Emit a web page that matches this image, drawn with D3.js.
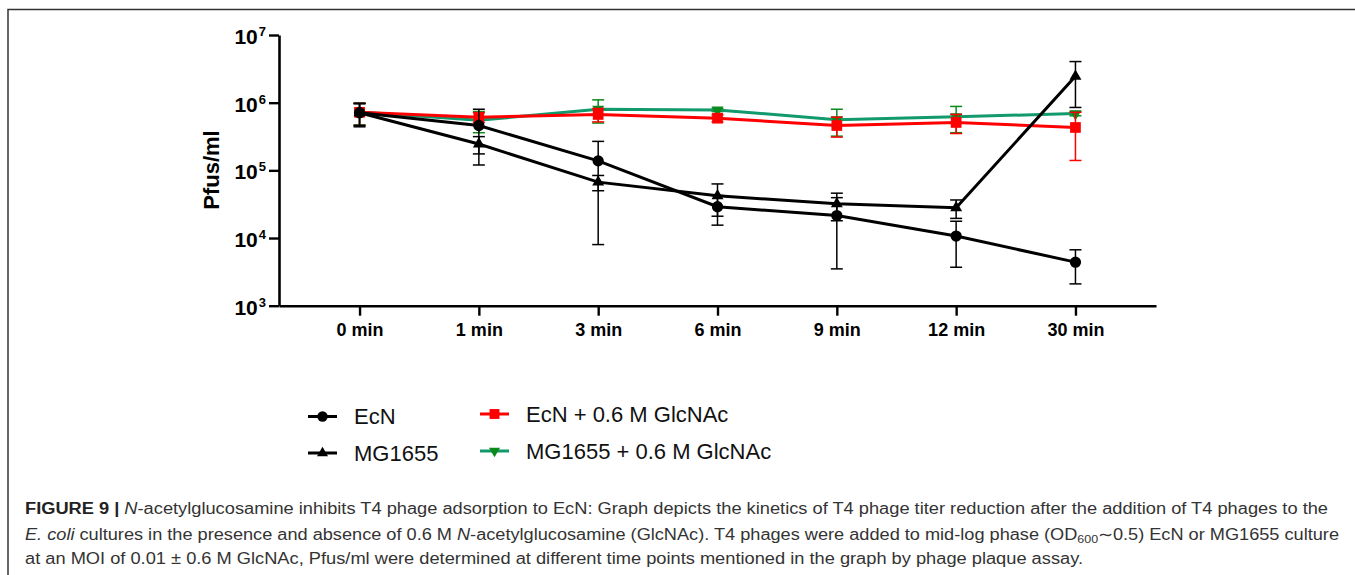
<!DOCTYPE html>
<html>
<head>
<meta charset="utf-8">
<script src="https://cdn.jsdelivr.net/npm/d3@7"></script>
<style>
  body { margin: 0; background: #fff; }
  text { font-family: "Liberation Sans", Arial, sans-serif; }
</style>
</head>
<body>
<div class="canvas"></div>
<script>
// time points on the x axis
const timeLabels = ["0 min", "1 min", "3 min", "6 min", "9 min", "12 min", "30 min"];
const yTicks = [1e3, 1e4, 1e5, 1e6, 1e7];

// pfu/ml means and SDs
const ecnMean = [7.1e5, 4.6e5, 1.38e5, 2.9e4, 2.15e4, 1.07e4, 4.4e3];
const ecnSd = [2.7e5, 3.4e5, 1.3e5, 1.35e4, 1.8e4, 7e3, 2.3e3];
const mgMean = [7.1e5, 2.45e5, 6.7e4, 4.2e4, 3.2e4, 2.8e4, 2.45e6];
const mgSd = [2.5e5, 7e4, 1.7e4, 2.1e4, 1.4e4, 8.5e3, 1.6e6];
const ecnGlcMean = [7.2e5, 6.1e5, 6.7e5, 5.9e5, 4.6e5, 5.1e5, 4.3e5];
const ecnGlcSd = [2.6e5, 1.0e5, 1.5e5, 7e4, 1.5e5, 1.6e5, 2.9e5];
const mgGlcMean = [7.3e5, 5.5e5, 8.0e5, 7.8e5, 5.6e5, 6.2e5, 6.9e5];
const mgGlcSd = [2.6e5, 1.9e5, 3.0e5, 4e4, 2.4e5, 2.6e5, 5e4];

const seriesNames = ["EcN", "MG1655", "EcN + 0.6 M GlcNAc", "MG1655 + 0.6 M GlcNAc"];

// drawing order: green, red, then the black ones on top
const series = [
  { name: seriesNames[3], mean: mgGlcMean, sd: mgGlcSd, line: "#12996c", mark: "#0a8a1c", shape: "down" },
  { name: seriesNames[2], mean: ecnGlcMean, sd: ecnGlcSd, line: "#ff0000", mark: "#ff0000", shape: "square" },
  { name: seriesNames[1], mean: mgMean, sd: mgSd, line: "#000", mark: "#000", shape: "up" },
  { name: seriesNames[0], mean: ecnMean, sd: ecnSd, line: "#000", mark: "#000", shape: "circle" }
];

const w = 1355;
const h = 575;

const svg = d3.select(".canvas").append("svg").attr("width", w).attr("height", h);
svg.append("rect").attr("width", w).attr("height", h).attr("fill", "#fff");

// figure frame (top and left edges are visible)
svg.append("path")
  .attr("d", `M8,${h} L8,9.5 L${w},9.5`)
  .attr("fill", "none")
  .attr("stroke", "#333")
  .attr("stroke-width", 1.5);

// scales
const x = d3.scalePoint().domain(timeLabels).range([279, 1156]).padding(0.675);
const y = d3.scaleLog().domain([1e3, 1e7]).range([305.7, 35]);

// marker shapes
const symbolFor = (shape, scale = 1) => {
  if (shape === "circle") return d3.symbol(d3.symbolCircle, 100 * scale)();
  if (shape === "square") return d3.symbol(d3.symbolSquare, 115 * scale)();
  return d3.symbol(d3.symbolTriangle, 62 * scale)();
};

// axes
const xAxis = d3.axisBottom(x).tickSize(10).tickSizeOuter(0).tickPadding(8);
const gx = svg.append("g").attr("transform", "translate(0,305.7)").call(xAxis);
gx.select(".domain").attr("stroke-width", 2.6).attr("stroke", "#000");
gx.selectAll(".tick line").attr("stroke-width", 2.4).attr("stroke", "#000");
gx.selectAll(".tick text")
  .attr("font-size", 18)
  .attr("font-weight", "bold")
  .attr("fill", "#000")
  .style("font-family", "'Liberation Sans', Arial, sans-serif");

const yAxis = d3.axisLeft(y).tickValues(yTicks).tickSize(10).tickSizeOuter(0).tickFormat("");
const gy = svg.append("g").attr("transform", "translate(279,0)").call(yAxis);
gy.select(".domain").attr("stroke-width", 2.6).attr("stroke", "#000");
gy.selectAll(".tick line").attr("stroke-width", 2.4).attr("stroke", "#000");

// 10^n labels
const yLab = gy.selectAll(".tick")
  .append("text")
  .attr("x", -13)
  .attr("y", 8.5)
  .attr("text-anchor", "end")
  .attr("fill", "#000")
  .attr("font-weight", "bold");
yLab.append("tspan").attr("font-size", 21).text("10");
yLab.append("tspan").attr("font-size", 13).attr("dy", -8).attr("dx", 1).text((d) => Math.round(Math.log10(d)));

// y axis title
svg.append("text")
  .attr("transform", "translate(219,170) rotate(-90)")
  .attr("text-anchor", "middle")
  .attr("font-size", 22)
  .attr("font-weight", "bold")
  .attr("fill", "#000")
  .text("Pfus/ml");

// series
const line = d3.line().x((d, i) => x(timeLabels[i])).y((d) => y(d));

series.forEach((s) => {
  const g = svg.append("g");

  // error bars (mean ± SD)
  const bars = g.selectAll(".err")
    .data(s.mean.map((m, i) => ({ t: timeLabels[i], lo: Math.max(m - s.sd[i], 1e3), hi: m + s.sd[i] })))
    .enter()
    .append("g")
    .attr("stroke", s.mark)
    .attr("stroke-width", 1.5);
  bars.append("line")
    .attr("x1", (d) => x(d.t)).attr("x2", (d) => x(d.t))
    .attr("y1", (d) => y(d.lo)).attr("y2", (d) => y(d.hi));
  bars.append("line")
    .attr("x1", (d) => x(d.t) - 6).attr("x2", (d) => x(d.t) + 6)
    .attr("y1", (d) => y(d.lo)).attr("y2", (d) => y(d.lo));
  bars.append("line")
    .attr("x1", (d) => x(d.t) - 6).attr("x2", (d) => x(d.t) + 6)
    .attr("y1", (d) => y(d.hi)).attr("y2", (d) => y(d.hi));

  g.append("path")
    .attr("d", line(s.mean))
    .attr("fill", "none")
    .attr("stroke", s.line)
    .attr("stroke-width", 3);

  g.selectAll(".pt")
    .data(s.mean)
    .enter()
    .append("path")
    .attr("d", symbolFor(s.shape))
    .attr("transform", (d, i) => `translate(${x(timeLabels[i])},${y(d)})${s.shape === "down" ? " rotate(180)" : ""}`)
    .attr("fill", s.mark);
});

// legend: left column black series, right column GlcNAc series
const legendItems = [
  { s: series[3], x: 308, y: 416.5 },
  { s: series[2], x: 308, y: 453 },
  { s: series[1], x: 480, y: 414 },
  { s: series[0], x: 480, y: 451 }
];

const legend = svg.append("g");
legendItems.forEach((it) => {
  const lg = legend.append("g").attr("transform", `translate(${it.x},${it.y})`);
  lg.append("line").attr("x1", 0).attr("x2", 29).attr("stroke", it.s.line).attr("stroke-width", 3);
  lg.append("path")
    .attr("d", symbolFor(it.s.shape, 0.85))
    .attr("transform", `translate(14.5,0)${it.s.shape === "down" ? " rotate(180)" : ""}`)
    .attr("fill", it.s.mark);
  lg.append("text")
    .attr("x", 46)
    .attr("y", 7.5)
    .attr("font-size", 22)
    .attr("fill", "#111")
    .text(it.s.name);
});

// caption
const cap = svg.append("g").attr("fill", "#333").attr("font-size", 16);

const c1 = cap.append("text").attr("x", 25).attr("y", 514).attr("textLength", 1303).attr("lengthAdjust", "spacingAndGlyphs");
c1.append("tspan").attr("font-weight", "bold").attr("fill", "#222").text("FIGURE 9 | ");
c1.append("tspan").attr("font-style", "italic").text("N");
c1.append("tspan").text("-acetylglucosamine inhibits T4 phage adsorption to EcN: Graph depicts the kinetics of T4 phage titer reduction after the addition of T4 phages to the");

const c2 = cap.append("text").attr("x", 25).attr("y", 540).attr("textLength", 1314).attr("lengthAdjust", "spacingAndGlyphs");
c2.append("tspan").attr("font-style", "italic").text("E. coli");
c2.append("tspan").text(" cultures in the presence and absence of 0.6 M ");
c2.append("tspan").attr("font-style", "italic").text("N");
c2.append("tspan").text("-acetylglucosamine (GlcNAc). T4 phages were added to mid-log phase (OD");
c2.append("tspan").attr("font-size", 11).attr("dy", 3).text("600");
c2.append("tspan").attr("dy", -3).text("\u223C0.5) EcN or MG1655 culture");

cap.append("text")
  .attr("x", 25)
  .attr("y", 564)
  .attr("textLength", 1058)
  .attr("lengthAdjust", "spacingAndGlyphs")
  .text("at an MOI of 0.01 \u00B1 0.6 M GlcNAc, Pfus/ml were determined at different time points mentioned in the graph by phage plaque assay.");
</script>
</body>
</html>
